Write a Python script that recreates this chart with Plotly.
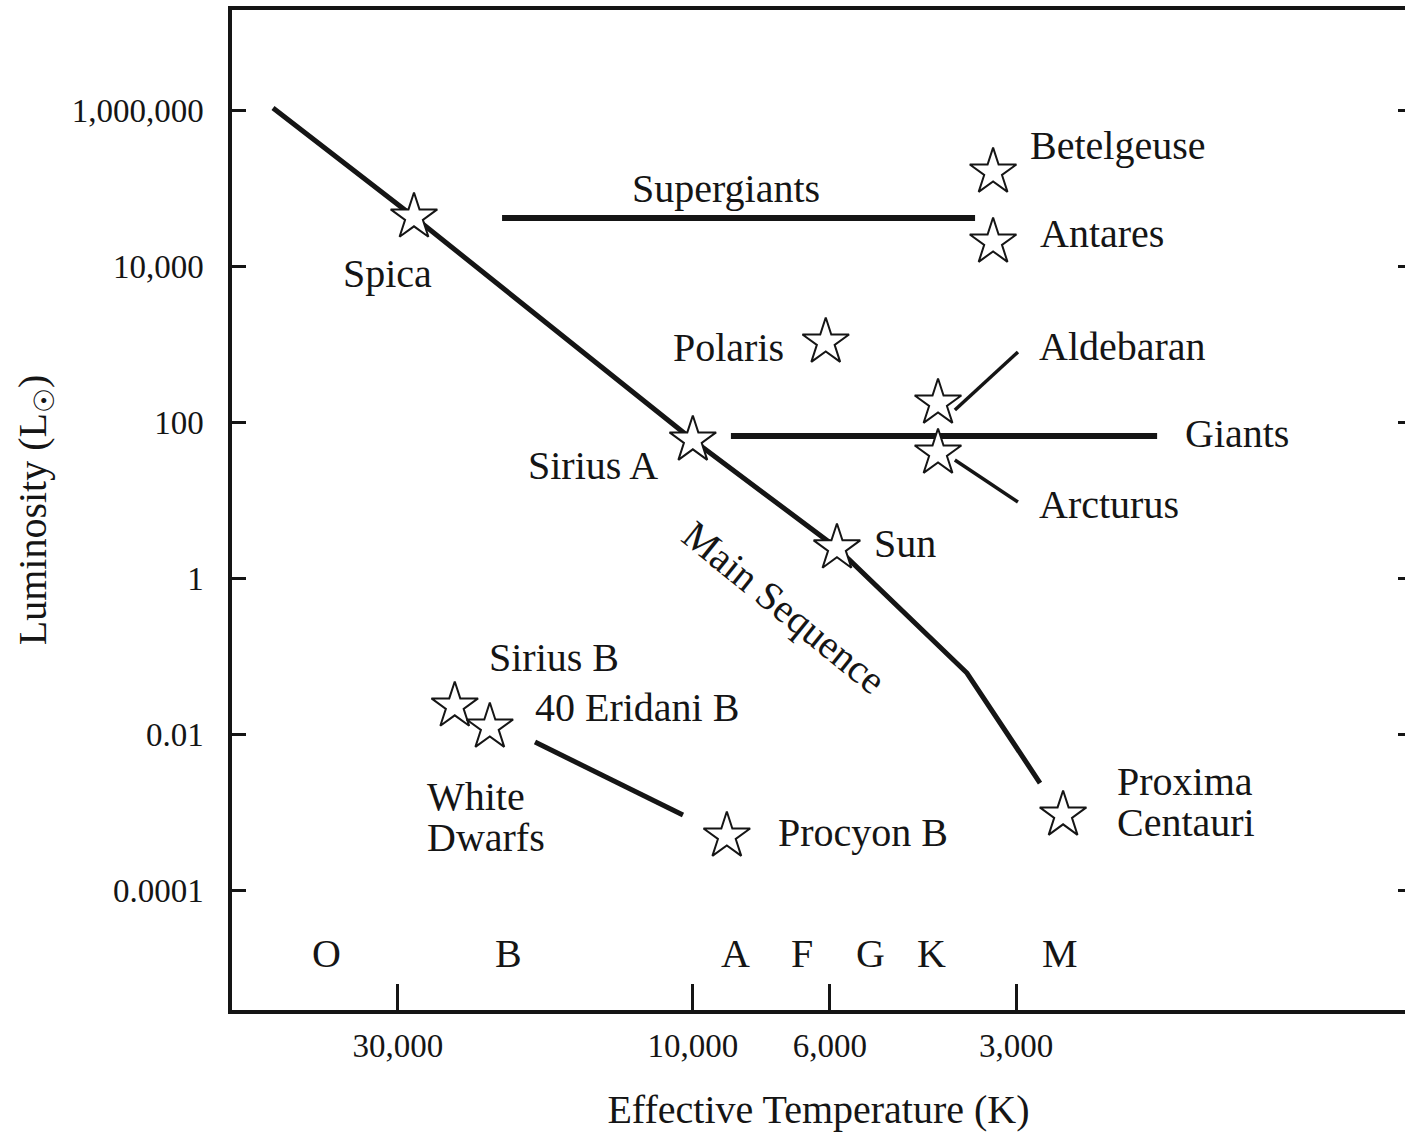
import numpy as np
import plotly.graph_objects as go

# ---------------- data ----------------
star_names = ["Spica", "Betelgeuse", "Antares", "Polaris", "Aldebaran", "Arcturus",
              "Sirius A", "Sun", "Sirius B", "40 Eridani B", "Procyon B", "Proxima Centauri"]
star_temp = [28250, 3268, 3268, 6095, 4012, 4012, 10000, 5846, 24270, 21300, 8810, 2518]
star_lum = [42500, 160000, 20300, 1060, 175, 40, 58.8, 2.43, 0.0229, 0.0123, 0.000492, 0.000916]

ms_temp = [47760, 28250, 10000, 5846, 3602, 2744]
ms_lum = [1.06e6, 42500, 58.8, 2.43, 0.0605, 0.002355]

supergiant_temp = [20350, 3495]
supergiant_lum = [41200, 41200]
giant_temp = [8677, 1774]
giant_lum = [66.2, 66.2]
wd_temp = [18000, 10373]
wd_lum = [0.00789, 0.000916]
aldebaran_ptr_temp = [3768, 2979]
aldebaran_ptr_lum = [142.6, 789]
arcturus_ptr_temp = [3768, 2979]
arcturus_ptr_lum = [32.6, 9.42]

spectral_classes = ["O", "B", "A", "F", "G", "K", "M"]
spectral_temp = [39100, 19840, 8520, 6660, 5150, 4108, 2549]

x_tickvals = [30000, 10000, 6000, 3000]
x_ticktext = ["30,000", "10,000", "6,000", "3,000"]
y_tickvals = [1e6, 1e4, 100, 1, 0.01, 0.0001]
y_ticktext = ["1,000,000", "10,000", "100", "1", "0.01", "0.0001"]

# ---------------- style ----------------
FONT = "Liberation Serif"
INK = "#151515"
LABEL_SIZE = 40
TICK_SIZE = 33

fig = go.Figure()

def seg(xs, ys, w):
    fig.add_trace(go.Scatter(x=xs, y=ys, mode="lines", line=dict(color=INK, width=w),
                             hoverinfo="skip", showlegend=False))

seg(ms_temp, ms_lum, 5)
seg(supergiant_temp, supergiant_lum, 6)
seg(giant_temp, giant_lum, 6)
seg(wd_temp, wd_lum, 5)
seg(aldebaran_ptr_temp, aldebaran_ptr_lum, 3.5)
seg(arcturus_ptr_temp, arcturus_ptr_lum, 3.5)

fig.add_trace(go.Scatter(
    x=star_temp, y=star_lum, mode="markers", text=star_names,
    marker=dict(symbol="star", size=35, color="white", line=dict(color=INK, width=2)),
    showlegend=False))

# invisible trace so the right-hand mirror axis (ticks only) is drawn
fig.add_trace(go.Scatter(x=star_temp, y=star_lum, yaxis="y2", mode="markers",
                         marker=dict(opacity=0), hoverinfo="skip", showlegend=False))

# ---------------- labels ----------------
lg = np.log10
star = dict(zip(star_names, zip(star_temp, star_lum)))

def label(name, text, xs, ys, xanchor="left", yanchor="middle", angle=0, size=LABEL_SIZE):
    t, l = star[name]
    fig.add_annotation(x=lg(t), y=lg(l), xref="x", yref="y", text=text, showarrow=False,
                       xshift=xs, yshift=ys, xanchor=xanchor, yanchor=yanchor,
                       textangle=angle, font=dict(family=FONT, size=size, color=INK))

label("Betelgeuse", "Betelgeuse", 35, 27)
label("Antares", "Antares", 45, 9)
label("Polaris", "Polaris", -40, -5, xanchor="right")
label("Spica", "Spica", -26, -57, xanchor="center")
label("Sirius A", "Sirius A", -33, -25, xanchor="right")
label("Sun", "Sun", 35, 4)
label("Aldebaran", "Aldebaran", 99, 57)
label("Arcturus", "Arcturus", 99, -51)
label("Sirius B", "Sirius B", 32, 48)
label("40 Eridani B", "40 Eridani B", 43, 20)
label("Sirius B", "White", -30, -91)
label("Sirius B", "Dwarfs", -30, -132)
label("Procyon B", "Procyon B", 49, 4)
label("Proxima Centauri", "Proxima", 52, 34)
label("Proxima Centauri", "Centauri", 52, -7)
label("Sun", "Main Sequence", -53, -60, xanchor="center", angle=39)

fig.add_annotation(x=lg(giant_temp[1]), y=lg(giant_lum[1]), text="Giants", showarrow=False,
                   xshift=26, yshift=2, xanchor="left", yanchor="middle",
                   font=dict(family=FONT, size=LABEL_SIZE, color=INK))
fig.add_annotation(x=(lg(supergiant_temp[0]) + lg(supergiant_temp[1])) / 2, y=lg(supergiant_lum[0]),
                   text="Supergiants", showarrow=False, xshift=-13, yshift=30,
                   xanchor="center", yanchor="middle",
                   font=dict(family=FONT, size=LABEL_SIZE, color=INK))

for c, t in zip(spectral_classes, spectral_temp):
    fig.add_annotation(x=lg(t), y=0.057, xref="x", yref="paper", text=c, showarrow=False,
                       xanchor="center", yanchor="middle",
                       font=dict(family=FONT, size=LABEL_SIZE, color=INK))

# ---------------- axes ----------------
axis_common = dict(showgrid=False, zeroline=False, linecolor=INK, linewidth=3.5,
                   tickcolor=INK, tickwidth=3, ticks="inside",
                   tickfont=dict(family=FONT, size=TICK_SIZE, color=INK))

fig.update_layout(
    width=1405, height=1134,
    margin=dict(l=232, r=0, t=10, b=124),
    paper_bgcolor="white", plot_bgcolor="white",
    font=dict(family=FONT, color=INK),
    xaxis=dict(type="log", range=[4.7454, 2.848], tickvals=x_tickvals, ticktext=x_ticktext,
               ticklen=26, showline=True, mirror=True, ticklabelstandoff=4,
               title=dict(text="Effective Temperature (K)", font=dict(family=FONT, size=LABEL_SIZE, color=INK),
                          standoff=33),
               **axis_common),
    yaxis=dict(type="log", range=[-5.538, 7.282], tickvals=y_tickvals, ticktext=y_ticktext,
               ticklen=14, showline=True, mirror=False, ticklabelstandoff=18,
               title=dict(text="Luminosity (L<sub>☉</sub>)", font=dict(family=FONT, size=LABEL_SIZE, color=INK),
                          standoff=14),
               **axis_common),
    yaxis2=dict(type="log", range=[-5.538, 7.282], overlaying="y", side="right", anchor="x",
                tickvals=y_tickvals, showticklabels=False, showline=False, showgrid=False,
                zeroline=False, ticks="inside", ticklen=7, tickwidth=3, tickcolor=INK),
)

fig.write_html("out.html", config={"displayModeBar": False},
               post_script="document.body.style.margin='0';document.body.style.overflow='hidden';")
